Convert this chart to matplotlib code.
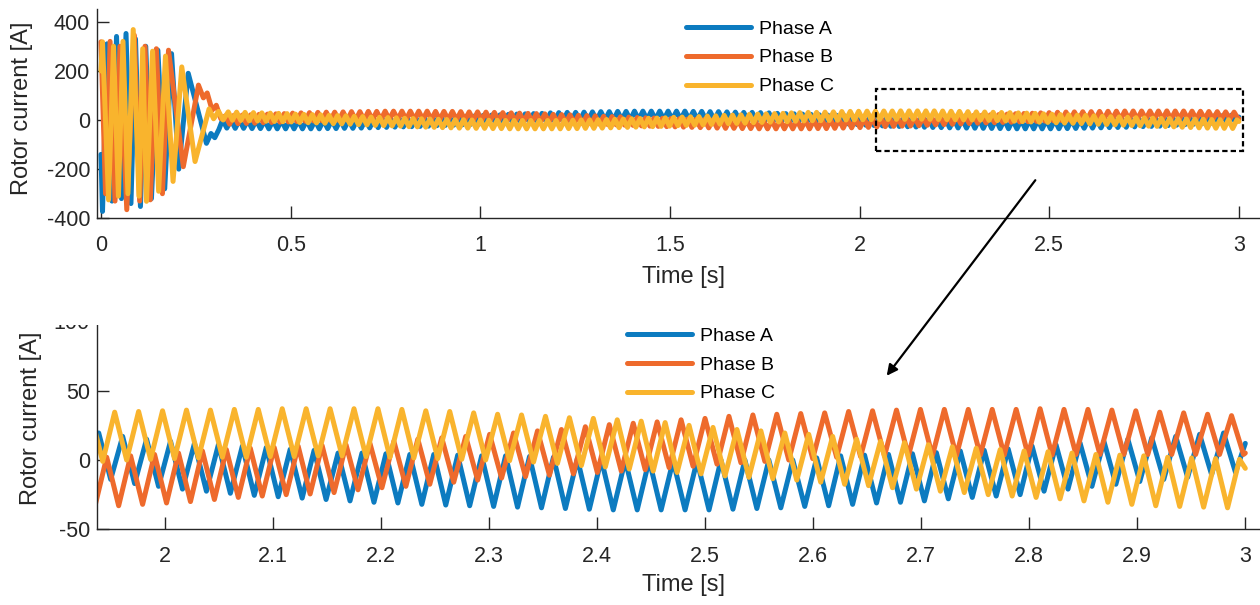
import numpy as np
import matplotlib
matplotlib.use("Agg")
import matplotlib.pyplot as plt
from matplotlib.patches import Rectangle, FancyArrowPatch

plt.rcParams['font.family'] = ['Liberation Sans', 'DejaVu Sans']
plt.rcParams['axes.unicode_minus'] = False

phase_names = ["Phase A", "Phase B", "Phase C"]
phase_colors = ["#0C7BC0", "#EE6A2C", "#F9B42D"]

# ---- start-up transient: turning points (time [s], current [A]) ----
tr_time_a = [0.000, 0.004, 0.016, 0.029, 0.041, 0.054, 0.066, 0.079, 0.091, 0.104,
             0.118, 0.133, 0.150, 0.168, 0.186, 0.205, 0.230, 0.278, 0.290, 0.300, 0.311]
tr_curr_a = [-140, -372, 310, -330, 340, -320, 352, -340, 330, -352,
             300, -320, 284, -280, 270, -200, 190, -95, -55, -72, -38]

tr_time_b = [0.000, 0.012, 0.024, 0.037, 0.050, 0.068, 0.088, 0.102, 0.116, 0.130,
             0.146, 0.162, 0.178, 0.217, 0.257, 0.270, 0.280, 0.293, 0.304, 0.316]
tr_curr_b = [318, -300, 320, -330, 300, -365, 345, -330, 300, -325,
             290, -300, 284, -190, 142, 90, 110, 40, 60, 5]

tr_time_c = [0.000, 0.004, 0.020, 0.033, 0.046, 0.058, 0.071, 0.085, 0.100, 0.110,
             0.120, 0.136, 0.152, 0.170, 0.190, 0.213, 0.248, 0.285, 0.297, 0.310, 0.322]
tr_curr_c = [200, 318, -325, 300, -310, 320, -300, 368, -310, 290,
             -331, 280, -290, 260, -250, 216, -169, 45, 5, 35, 0]

# ---- steady operation: one peak and one trough per slip cycle ----
cycle_period = 0.02216                      # s
first_peak = [0.32067, 0.32806, 0.33545]    # s, phases A, B, C
t_end = 3.0
end_current = [12, 5, -6]                   # A at t = 3 s

peaks_a = [1, 0, 0, -1, -1, -2, -2, -2, -2, -2, -2, -2,
           -1, -1, 0, 0, 1, 2, 3, 4, 5, 6, 7, 8,
           9, 11, 12, 13, 14, 16, 17, 19, 20, 21, 23, 24,
           25, 26, 27, 29, 30, 31, 31, 32, 33, 34, 34, 35,
           35, 36, 36, 36, 36, 36, 36, 36, 35, 35, 34, 34,
           33, 32, 31, 31, 30, 29, 27, 26, 25, 24, 23, 21, 20,
           19.5, 17, 15, 13.5, 12, 11, 10, 9, 7.7, 7,
           5, 5, 4.5, 4, 4, 3.5, 3, 3, 2.5, 2,
           1, 0.5, 0, 0, -0.5, -0.5, 0, 0, 0, 0,
           1.5, 3, 3.5, 4, 4.5, 5.3, 6.5, 7, 8, 10,
           11, 12.5, 13.5, 15, 16, 17, 18.5, 19.5]
troughs_a = [-33, -34, -34, -35, -35, -36, -36, -36, -36, -36, -36, -36,
             -35, -35, -34, -34, -33, -32, -31, -30, -29, -28, -27, -26,
             -25, -23, -22, -21, -20, -18, -17, -15, -14, -13, -11, -10,
             -9, -8, -7, -5, -4, -3, -3, -2, -1, 0, 0, 1,
             1, 2, 2, 2, 2, 2, 2, 2, 1, 1, 0, 0,
             -1, -2, -3, -3, -4, -5, -7, -8, -9, -10, -11, -13, -14,
             -14, -17, -19, -21, -22.5, -24, -25.5, -26.5, -27.5, -28.5,
             -29.5, -30.5, -31, -32, -32.5, -33, -33.5, -34, -34.5, -35,
             -35.5, -36, -36, -36, -36, -36, -35.5, -35, -34.5, -33.5,
             -33, -32, -31, -30.5, -29.5, -28, -27, -26, -25, -22.5,
             -21, -19, -17.5, -15.5, -14, -12.5, -10.5, -9]

peaks_b = [17, 19, 20, 21, 23, 24, 25, 26, 28, 29, 30, 31,
           32, 32, 33, 34, 34, 35, 35, 36, 36, 36, 36, 36,
           36, 35, 35, 35, 34, 33, 33, 32, 31, 30, 29, 28,
           27, 26, 25, 23, 22, 21, 19, 18, 17, 15, 14, 13,
           12, 10, 9, 8, 7, 6, 5, 4, 3, 2, 1, 0,
           0, -1, -1, -2, -2, -2, -2, -2, -2, -2, -1, -1, 0,
           2, 3, 4, 5, 6.5, 7.5, 8.5, 9, 10, 10.5,
           11, 12, 13.5, 15, 16, 17, 18.5, 19.5, 21, 22,
           24, 25.5, 26.5, 27.5, 29, 30, 31.5, 32.5, 33, 33.5,
           34, 35, 35.5, 36, 36.5, 36.5, 36.5, 36.5, 36.5, 37,
           36.5, 36.5, 36, 35.5, 34.5, 34, 33, 32]
troughs_b = [-17, -15, -14, -13, -11, -10, -9, -8, -6, -5, -4, -3,
             -2, -2, -1, 0, 0, 1, 1, 2, 2, 2, 2, 2,
             2, 1, 1, 1, 0, -1, -1, -2, -3, -4, -5, -6,
             -7, -8, -9, -11, -12, -13, -15, -16, -17, -19, -20, -21,
             -22, -24, -25, -26, -27, -28, -29, -30, -31, -32, -33, -34,
             -34, -35, -35, -36, -36, -36, -36, -36, -36, -36, -35, -35, -34,
             -33, -32, -31, -30, -28.5, -27, -26, -25, -24.5, -23.5,
             -21.5, -20, -19, -17.5, -16, -14.5, -13, -12, -11, -10,
             -9, -8, -7, -5.5, -4.5, -3, -2, -1, 0, 1,
             2, 2.5, 3, 3, 3, 3, 3.5, 3.5, 3.5, 3.5,
             4, 4, 4, 4, 4, 4, 4, 4]

peaks_c = [33, 32, 31, 30, 29, 28, 27, 26, 24, 23, 22, 21,
           19, 18, 17, 15, 14, 12, 11, 10, 9, 7, 6, 5,
           4, 3, 2, 1, 1, 0, 0, -1, -1, -2, -2, -2,
           -2, -2, -2, -2, -1, -1, 0, 0, 1, 2, 3, 4,
           5, 6, 7, 8, 9, 11, 12, 13, 14, 16, 17, 19,
           20, 21, 23, 24, 25, 26, 27, 29, 30, 31, 31, 32, 33,
           34.5, 35, 35.5, 36, 36, 36.5, 36.5, 37, 37, 37,
           37, 37, 36.5, 35.5, 35, 34, 33, 32.5, 31.5, 30.5,
           30, 29, 28, 27, 25, 23.5, 22, 21, 19.5, 18.5,
           17, 15, 13.5, 12.5, 11, 9.5, 8.5, 7.5, 6.5, 6,
           5, 4, 3.5, 3, 2, 1.5, 1, 0.5]
troughs_c = [-1, -2, -3, -4, -5, -6, -7, -8, -10, -11, -12, -13,
             -15, -16, -17, -19, -20, -22, -23, -24, -25, -27, -28, -29,
             -30, -31, -32, -33, -33, -34, -34, -35, -35, -36, -36, -36,
             -36, -36, -36, -36, -35, -35, -34, -34, -33, -32, -31, -30,
             -29, -28, -27, -26, -25, -23, -22, -21, -20, -18, -17, -15,
             -14, -13, -11, -10, -9, -8, -7, -5, -4, -3, -3, -2, -1,
             0, 0.5, 1, 1.5, 2, 2, 2.5, 2.5, 3, 3,
             2.5, 2, 1.5, 1, 0.5, 0, -0.5, -1.5, -2.5, -4,
             -5, -6.5, -8, -9, -10, -11.5, -12.5, -13.5, -14.5, -16,
             -17.5, -18.5, -20, -21, -22.5, -23.5, -25, -26, -27, -28,
             -29.5, -30.5, -32, -33, -33.5, -34, -34.5]

# axis ticks
top_xticks = [0, 0.5, 1, 1.5, 2, 2.5, 3]
top_xlabels = ["0", "0.5", "1", "1.5", "2", "2.5", "3"]
top_yticks = [-400, -200, 0, 200, 400]
zoom_xticks = [2.0, 2.1, 2.2, 2.3, 2.4, 2.5, 2.6, 2.7, 2.8, 2.9, 3.0]
zoom_xlabels = ["2", "2.1", "2.2", "2.3", "2.4", "2.5", "2.6", "2.7", "2.8", "2.9", "3"]
zoom_yticks = [-50, 0, 50, 100]
zoom_window = (2.043, 3.010, -128, 125)   # t0, t1, i0, i1 of the framed region


def waveform(tr_t, tr_i, t_first, peaks, troughs, i_end):
    tp = t_first + cycle_period * np.arange(len(peaks))
    tt = t_first + cycle_period * (np.arange(len(troughs)) + 0.5)
    t = np.concatenate([tr_t, tp, tt, [t_end]])
    i = np.concatenate([tr_i, peaks, troughs, [i_end]])
    order = np.argsort(t, kind="stable")
    t, i = t[order], i[order]
    keep = t <= t_end + 1e-9
    return t[keep], i[keep]


series = [
    waveform(tr_time_a, tr_curr_a, first_peak[0], peaks_a, troughs_a, end_current[0]),
    waveform(tr_time_b, tr_curr_b, first_peak[1], peaks_b, troughs_b, end_current[1]),
    waveform(tr_time_c, tr_curr_c, first_peak[2], peaks_c, troughs_c, end_current[2]),
]

W, H = 1260, 605
fig = plt.figure(figsize=(W / 100, H / 100), dpi=100)
fig.patch.set_facecolor("white")

dark = "#262626"
lw = 3.6


def px_rect(left, top, right, bottom):
    return [left / W, 1 - bottom / H, (right - left) / W, (bottom - top) / H]


def style(ax):
    for s in ("top", "right"):
        ax.spines[s].set_visible(False)
    for s in ("left", "bottom"):
        ax.spines[s].set_color(dark)
        ax.spines[s].set_linewidth(1.0)
    ax.tick_params(direction="in", length=8.5, width=1.0, colors=dark,
                   labelsize=15.5, labelcolor=dark)
    ax.tick_params(axis="x", pad=12)
    ax.tick_params(axis="y", pad=5)
    ax.set_facecolor("none")


legend_kw = dict(bbox_transform=fig.transFigure, frameon=False, fontsize=14,
                 handlelength=3.35, handletextpad=0.4, labelspacing=0.58,
                 borderpad=0, borderaxespad=0, loc="upper left")

# ---- full record ----
ax1 = fig.add_axes(px_rect(97, 9.4, 1260, 218.3))
lines = []
for (t, i), name, col in zip(series, phase_names, phase_colors):
    ln, = ax1.plot(t, i, color=col, lw=lw, label=name,
                   solid_joinstyle="round", solid_capstyle="round")
    lines.append(ln)
ax1.set_xlim(-0.0105, 3.0556)
ax1.set_ylim(-400, 450)
ax1.set_xticks(top_xticks, top_xlabels)
ax1.set_yticks(top_yticks)
style(ax1)
ax1.set_xlabel("Time [s]", fontsize=17, color=dark, va="center")
ax1.xaxis.set_label_coords(0.504, -0.281)
ax1.set_ylabel("Rotor current [A]", fontsize=17, color=dark, va="center")
ax1.yaxis.set_label_coords(-0.0645, 0.528)
ax1.legend(lines, phase_names, bbox_to_anchor=(686 / W, 1 - 20 / H), **legend_kw)

t0, t1, i0, i1 = zoom_window
ax1.add_patch(Rectangle((t0, i0), t1 - t0, i1 - i0, fill=False, ec="black",
                        lw=1.6, ls=(0, (2.4, 1.4)), clip_on=False, zorder=6))

# ---- zoomed record ----
ax2 = fig.add_axes(px_rect(96.7, 321.4, 1260, 529.3))
lines2 = []
for (t, i), name, col in zip(series, phase_names, phase_colors):
    ln, = ax2.plot(t, i, color=col, lw=lw, label=name,
                   solid_joinstyle="round", solid_capstyle="round")
    lines2.append(ln)
ax2.set_xlim(1.93648, 3.01361)
ax2.set_ylim(-50, 100)
ax2.set_xticks(zoom_xticks, zoom_xlabels)
ax2.set_yticks(zoom_yticks)
style(ax2)
ax2.set_xlabel("Time [s]", fontsize=17, color=dark, va="center")
ax2.xaxis.set_label_coords(0.504, -0.268)
ax2.set_ylabel("Rotor current [A]", fontsize=17, color=dark, va="center")
ax2.yaxis.set_label_coords(-0.0565, 0.535)
ax2.legend(lines2, phase_names, bbox_to_anchor=(627 / W, 1 - 327 / H), **legend_kw)

# the lower panel is trimmed along its upper edge
fig.add_artist(Rectangle((0, 1 - 325 / H), 113 / W, 25 / H, transform=fig.transFigure,
                         fc="white", ec="none", zorder=10))

# arrow from the framed region to the zoomed panel
fig.add_artist(FancyArrowPatch((1037 / W, 1 - 178 / H), (885 / W, 1 - 378 / H),
                               transform=fig.transFigure, arrowstyle="-|>",
                               mutation_scale=16, lw=1.6, color="black", zorder=10))

fig.savefig("out.png", dpi=100, facecolor="white")
